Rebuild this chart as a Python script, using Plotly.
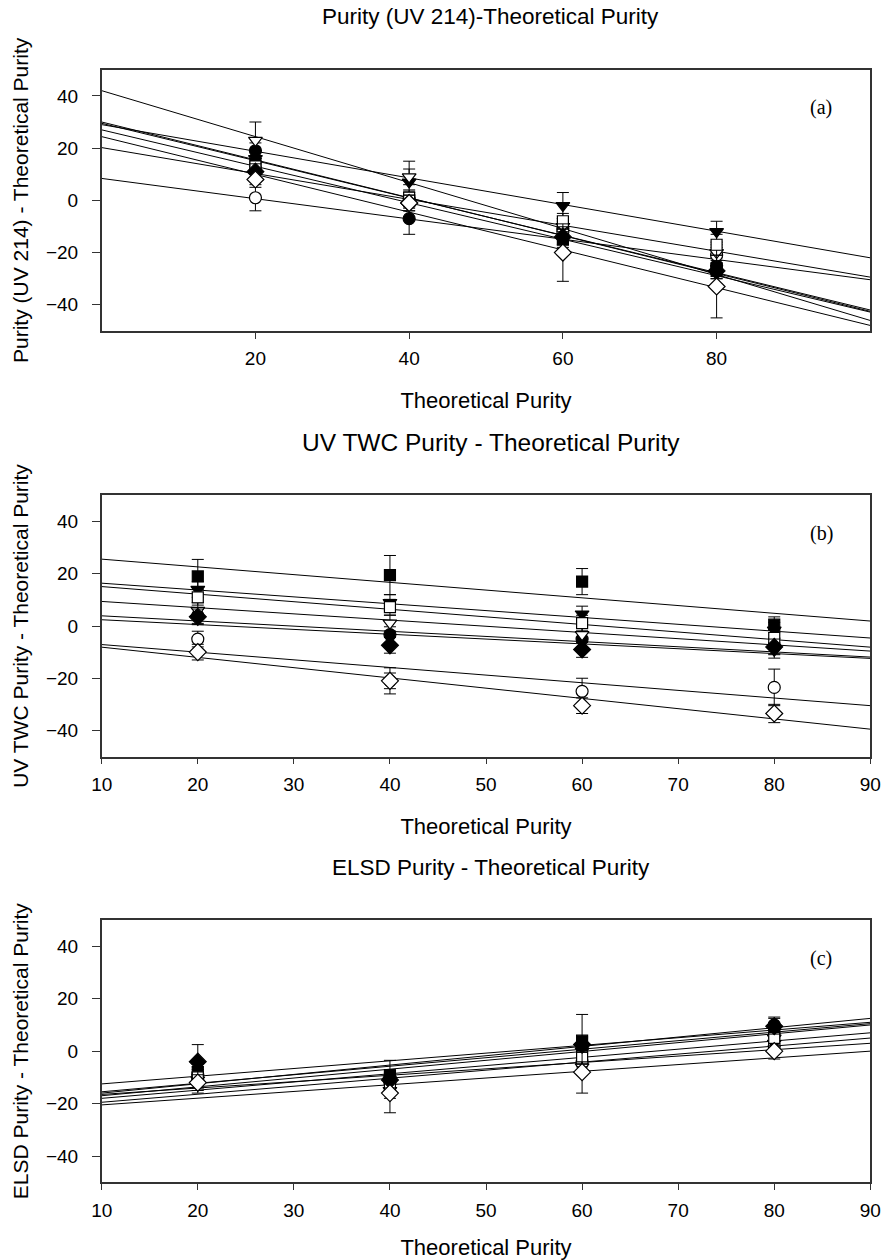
import plotly.graph_objects as go

# ---------------- data ----------------
x_points = [20, 40, 60, 80]
series_names = ["filled circle", "open circle", "filled triangle", "open triangle",
                "filled square", "open square", "filled diamond", "open diamond"]

# Panel (a): Purity (UV 214) - Theoretical Purity
a_fc = [19, -7, -11, -25]
a_oc = [1, 0.5, -12, -21]
a_ft = [16, 7, -2, -12]
a_ot = [23, 9, -10, -20]
a_fs = [14, 0, -15, -27]
a_os = [13, 1, -8, -17]
a_fd = [11, -1, -14, -27]
a_od = [8, -1, -20, -33]
a_err_fc = [3, 6, 3, 3]
a_err_oc = [5, 3, 3, 3]
a_err_ft = [3, 8, 5, 4]
a_err_ot = [7, 3, 3, 3]
a_err_fs = [3, 3, 3, 3]
a_err_os = [3, 3, 3, 4]
a_err_fd = [3, 3, 3, 3]
a_err_od = [3, 3, 11, 12]
a_fit_x = [0, 100]
a_fit_left = [30, 8.4, 29, 42, 29.5, 20.2, 27, 24.4]
a_fit_right = [-42.5, -30.4, -22, -46, -42, -29.4, -42.8, -47.9]

# Panel (b): UV TWC Purity - Theoretical Purity
b_fc = [4, -3.3, -5, -7.7]
b_oc = [-5, -21, -25, -23.5]
b_ft = [14, 9, 4.6, -1.6]
b_ot = [6, 1.1, -3.3, -9.3]
b_fs = [19, 19.5, 17, 0.5]
b_os = [11, 7.2, 1.1, -4.6]
b_fd = [3.5, -7.4, -9, -8]
b_od = [-10, -21, -30.5, -33.5]
b_err_fc = [3, 3, 3, 3]
b_err_oc = [3, 3, 5, 7]
b_err_ft = [3, 3, 3, 3]
b_err_ot = [3, 3, 3, 3]
b_err_fs = [6.5, 7.5, 5, 3]
b_err_os = [3, 3, 3, 3]
b_err_fd = [3, 3, 3, 3]
b_err_od = [3, 5, 3, 3.5]
b_fit_x = [10, 90]
b_fit_left = [3.9, -7.1, 16.4, 9.4, 25.6, 15.1, 2.4, -8.1]
b_fit_right = [-11.9, -30.5, -4.6, -9.6, 1.9, -8.1, -12.4, -39.5]

# Panel (c): ELSD Purity - Theoretical Purity
c_fc = [-9, -10, 2, 10]
c_oc = [-11, -12, -4, 2]
c_ft = [-13, -11, 0, 3]
c_ot = [-11, -15, -6, 5]
c_fs = [-8, -9.5, 4, 8]
c_os = [-10, -13, -2, 5]
c_fd = [-4, -11, 2.5, 9.5]
c_od = [-12, -16, -8, 0]
c_err_fc = [3, 3, 3, 3]
c_err_oc = [3, 3, 3, 3]
c_err_ft = [3, 3, 3, 3]
c_err_ot = [3, 3, 3, 3]
c_err_fs = [3, 6, 10, 3]
c_err_os = [3, 3, 3, 3]
c_err_fd = [6.5, 3, 3, 3]
c_err_od = [3, 7.5, 8, 3]
c_fit_x = [10, 90]
c_fit_left = [-16, -16.5, -17, -18, -15.5, -19.5, -12.5, -20.5]
c_fit_right = [12.5, 3, 10, 7, 10.5, 5, 11, 0]

panel_titles = ["Purity (UV 214)-Theoretical Purity",
                "UV TWC Purity - Theoretical Purity",
                "ELSD Purity - Theoretical Purity"]
y_titles = ["Purity (UV 214) - Theoretical Purity",
            "UV TWC Purity - Theoretical Purity",
            "ELSD Purity - Theoretical Purity"]
x_title = "Theoretical Purity"
panel_labels = ["(a)", "(b)", "(c)"]
x_ticks_a = [20, 40, 60, 80]
x_ticks_bc = [10, 20, 30, 40, 50, 60, 70, 80, 90]
y_ticks = [-40, -20, 0, 20, 40]

# ---------------- styles ----------------
symbols = ["circle", "circle", "triangle-down", "triangle-down",
           "square", "square", "diamond", "diamond"]
fills = ["black", "white", "black", "white", "black", "white", "black", "white"]
sizes = [12, 12, 12, 12, 11, 11, 13, 13]
title_sizes = [22.5, 24.5, 22.5]

panels = [
    dict(vals=[a_fc, a_oc, a_ft, a_ot, a_fs, a_os, a_fd, a_od],
         errs=[a_err_fc, a_err_oc, a_err_ft, a_err_ot, a_err_fs, a_err_os, a_err_fd, a_err_od],
         fx=a_fit_x, fl=a_fit_left, fr=a_fit_right),
    dict(vals=[b_fc, b_oc, b_ft, b_ot, b_fs, b_os, b_fd, b_od],
         errs=[b_err_fc, b_err_oc, b_err_ft, b_err_ot, b_err_fs, b_err_os, b_err_fd, b_err_od],
         fx=b_fit_x, fl=b_fit_left, fr=b_fit_right),
    dict(vals=[c_fc, c_oc, c_ft, c_ot, c_fs, c_os, c_fd, c_od],
         errs=[c_err_fc, c_err_oc, c_err_ft, c_err_ot, c_err_fs, c_err_os, c_err_fd, c_err_od],
         fx=c_fit_x, fl=c_fit_left, fr=c_fit_right),
]

W, H = 894, 1260
x_dom = [93 / W, 881 / W]
box_px = [(70, 332), (497, 759), (923, 1186)]
FONT = "Liberation Sans, Arial, sans-serif"

fig = go.Figure()

for i, p in enumerate(panels):
    xa = "x" if i == 0 else f"x{i+1}"
    ya = "y" if i == 0 else f"y{i+1}"
    # regression lines first (beneath markers)
    for k in range(8):
        fig.add_trace(go.Scatter(
            x=p["fx"], y=[p["fl"][k], p["fr"][k]], mode="lines",
            line=dict(color="black", width=1), xaxis=xa, yaxis=ya,
            showlegend=False, hoverinfo="skip"))
    for k in range(8):
        fig.add_trace(go.Scatter(
            x=x_points, y=p["vals"][k], mode="markers", name=series_names[k],
            marker=dict(symbol=symbols[k], size=sizes[k], color=fills[k],
                        line=dict(color="black", width=1.2)),
            error_y=dict(type="data", array=p["errs"][k], visible=True,
                         color="black", thickness=1, width=6),
            xaxis=xa, yaxis=ya, showlegend=False))

layout = dict(width=W, height=H, margin=dict(l=0, r=0, t=0, b=0),
              paper_bgcolor="white", plot_bgcolor="white",
              font=dict(family=FONT, color="black", size=19),
              showlegend=False, annotations=[])

for i in range(3):
    top, bot = box_px[i]
    y_dom = [1 - bot / H, 1 - top / H]
    xk = "xaxis" if i == 0 else f"xaxis{i+1}"
    yk = "yaxis" if i == 0 else f"yaxis{i+1}"
    ya = "y" if i == 0 else f"y{i+1}"
    xa = "x" if i == 0 else f"x{i+1}"
    layout[xk] = dict(
        domain=x_dom, anchor=ya,
        range=[0, 100] if i == 0 else [10, 90],
        tickvals=x_ticks_a if i == 0 else x_ticks_bc,
        ticks="outside", ticklen=6, tickwidth=1, tickcolor="#333",
        showline=True, linewidth=1.5, linecolor="#333", mirror=True,
        showgrid=False, zeroline=False, ticklabelstandoff=4,
        tickfont=dict(size=19, family=FONT),
        title=dict(text=x_title, font=dict(size=22, family=FONT), standoff=24))
    layout[yk] = dict(
        domain=y_dom, anchor=xa, range=[-50, 50], tickvals=y_ticks,
        ticks="outside", ticklen=8, tickwidth=1, tickcolor="#333",
        showline=True, linewidth=1.5, linecolor="#333", mirror=True,
        showgrid=False, zeroline=False, ticklabelstandoff=10,
        tickfont=dict(size=19, family=FONT),
        title=dict(text=y_titles[i], font=dict(size=21, family=FONT), standoff=12))
    title_y_px = top - 53
    layout["annotations"].append(dict(
        text=panel_titles[i], xref="paper", yref="paper",
        x=492 / W, y=1 - title_y_px / H, xanchor="center", yanchor="middle",
        showarrow=False, font=dict(size=title_sizes[i], family=FONT)))
    layout["annotations"].append(dict(
        text=panel_labels[i], xref=f"{xa} domain", yref=f"{ya} domain",
        x=0.936, y=0.855, xanchor="center", yanchor="middle",
        showarrow=False, font=dict(size=20, family="Liberation Serif, Times New Roman, serif")))

fig.update_layout(**layout)
fig.write_html("out.html")
